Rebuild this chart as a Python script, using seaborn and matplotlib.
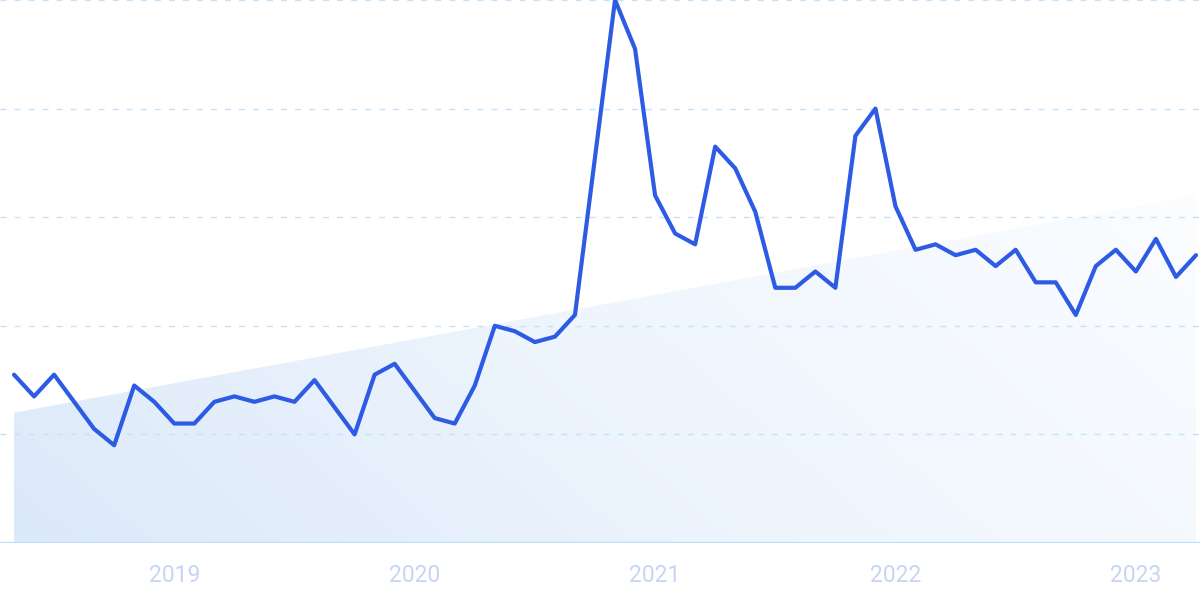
import numpy as np
import pandas as pd
import matplotlib
matplotlib.use("Agg")
import matplotlib.pyplot as plt
import seaborn as sns
from matplotlib.colors import LinearSegmentedColormap
from matplotlib.patches import Polygon

# ========== Data ==========
# monthly interest, May 2018 .. Apr 2023
interest = [31, 27, 31, 26, 21, 18, 29, 26, 22, 22,
            26, 27, 26, 27, 26, 30, 25, 20, 31, 33,
            28, 23, 22, 29, 40, 39, 37, 38, 42, 71,
            100, 91, 64, 57, 55, 73, 69, 61, 47, 47,
            50, 47, 75, 80, 62, 54, 55, 53, 54, 51,
            54, 48, 48, 42, 51, 54, 50, 56, 49, 53]
trend_start = 24
trend_end = 64
year_ticks = [8, 20, 32, 44, 56]
year_labels = ["2019", "2020", "2021", "2022", "2023"]
grid_levels = [20, 40, 60, 80, 100]

df = pd.DataFrame({"month": np.arange(len(interest)), "value": interest})
n = len(interest)

sns.set_theme(style="white")
plt.rcParams["font.family"] = ["Roboto", "DejaVu Sans"]

fig = plt.figure(figsize=(12, 6), dpi=100)
ax = fig.add_axes([0, 57 / 600, 1, 543 / 600])
ax.set_xlim(-0.7, n - 1 + 0.2)
ax.set_ylim(0, 100)

# trend area with a soft gradient
poly = Polygon([(0, 0), (0, trend_start), (n - 1, trend_end), (n - 1, 0)],
               closed=True, transform=ax.transData, facecolor="none", edgecolor="none")
ax.add_patch(poly)
gx, gy = np.meshgrid(np.linspace(0, 1, 300), np.linspace(0, 1, 200))
shade = 0.75 * gx + 0.25 * gy
fade = LinearSegmentedColormap.from_list("fade", ["#dce9f9", "#eef5fd", "#fbfdff"])
im = ax.imshow(shade, cmap=fade, extent=[0, n - 1, 0, trend_end], origin="lower",
               aspect="auto", vmin=0, vmax=1, zorder=1)
im.set_clip_path(poly)

# grid
for level in grid_levels:
    ax.axhline(level, color="#c2e3fb", lw=1.0, ls=(0, (4.3, 5.8)), zorder=2)
ax.axhline(0, color="#b8defb", lw=1.6, zorder=2)

# the line itself
sns.lineplot(data=df, x="month", y="value", color="#2d5be3", lw=3.0, ax=ax, zorder=3)

ax.set_xticks(year_ticks)
ax.set_xticklabels(year_labels)
ax.set_yticks([])
ax.tick_params(axis="x", length=0, pad=15, labelsize=16.5, labelcolor="#c8d4f3")
ax.set_xlabel("")
ax.set_ylabel("")
for side in ax.spines.values():
    side.set_visible(False)

fig.savefig("out.png", dpi=100)
